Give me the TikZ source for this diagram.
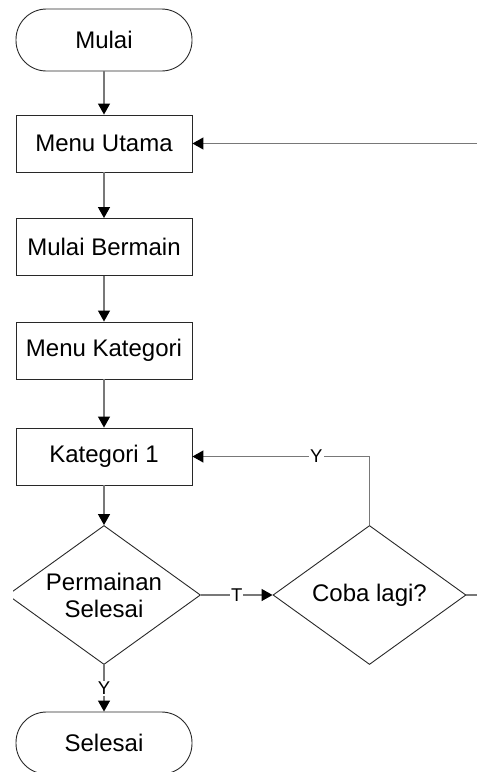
\documentclass[tikz,border=0pt]{standalone}
\usepackage{fontspec}
\setmainfont{Liberation Sans}
\usetikzlibrary{shapes.geometric,arrows.meta}
\definecolor{conn}{RGB}{120,120,120}
\definecolor{outl}{RGB}{40,40,40}
\begin{document}
\begin{tikzpicture}[x=1pt,y=-1pt,
  base/.style={draw=outl,line width=0.9pt,font=\fontsize{24}{27}\selectfont,align=center,inner sep=0pt},
  term/.style={base,rectangle,rounded corners=30.5pt,minimum width=176pt,minimum height=62pt},
  procbox/.style={base,rectangle,minimum width=176pt,minimum height=57pt},
  decision/.style={base,diamond,aspect=1.39,minimum width=193pt,minimum height=139pt},
  conline/.style={draw=conn,line width=1.3pt,-{Triangle[length=11pt,width=12pt,fill=black,color=black]}},
  plain/.style={draw=conn,line width=1.3pt},
  lbl/.style={fill=white,inner sep=1pt,font=\fontsize{18.5}{18.5}\selectfont}]
\useasboundingbox (0,0) rectangle (477,772);
\clip (13,0) rectangle (477,772);
\node[term] (mulai) at (104,40) {Mulai};
\node[procbox] (menu) at (104,143.5) {Menu Utama};
\node[procbox] (bermain) at (104,247) {Mulai Bermain};
\node[procbox] (kategori) at (104,350.5) {Menu Kategori};
\node[procbox] (kat1) at (104,456.5) {Kategori 1};
\node[decision] (perm) at (104,595) {Permainan\\Selesai};
\node[decision] (coba) at (369.5,595) {Coba lagi?};
\node[term] (selesai) at (104,743) {Selesai};
\coordinate (rtop) at (478,143.5);
\coordinate (rmid) at (478,595);
\coordinate (bend) at (369.5,456.5);
\draw[conline] (mulai) -- (menu);
\draw[conline] (rtop) -- (menu.east);
\draw[conline] (menu) -- (bermain);
\draw[conline] (bermain) -- (kategori);
\draw[conline] (kategori) -- (kat1);
\draw[conline] (kat1) -- (perm.north);
\draw[conline] (perm.east) -- node[lbl]{T} (coba.west);
\draw[plain] (coba.north) -- (bend);
\draw[conline] (bend) -- node[lbl,pos=0.3]{Y} (kat1.east);
\draw[plain] (coba.east) -- (rmid);
\draw[conline] (perm.south) -- node[lbl,pos=0.5]{Y} (selesai.north);
\end{tikzpicture}
\end{document}
